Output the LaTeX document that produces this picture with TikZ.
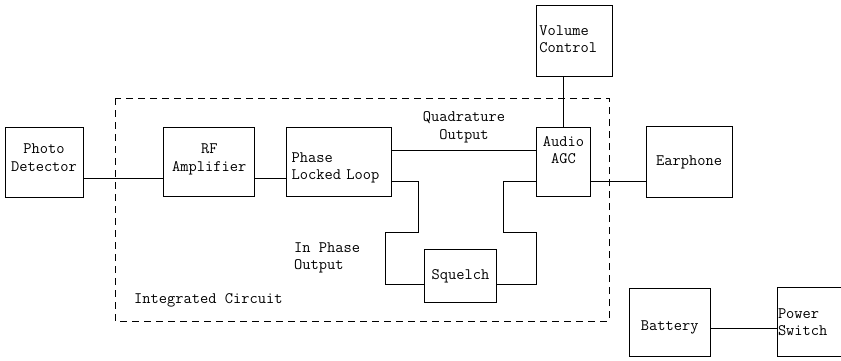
\documentclass[tikz,border=0pt]{standalone}
\usepackage{fontspec}
\usetikzlibrary{positioning}

\begin{document}
\begin{tikzpicture}[
  x=1pt, y=1pt,
  node distance=40pt,
  block/.style={
    rectangle, draw, line width=0.8pt, inner sep=2pt,
    minimum height=69pt, align=center,
    font=\ttfamily\fontsize{16}{17.5}\selectfont
  },
  lbl/.style={inner sep=0pt, align=left, font=\ttfamily\fontsize{16}{17.5}\selectfont},
  wire/.style={line width=0.8pt},
  icbox/.style={line width=0.8pt, dash pattern=on 7pt off 5pt}
]
\useasboundingbox (0,0) rectangle (841,-361);

\node[block, minimum width=78pt, minimum height=70pt, text depth=9pt] (pd) at (44,-162) {Photo\\Detector};
\node[block, minimum width=91pt, text depth=9pt, right=80pt of pd] (rf) {RF\\Amplifier};
\node[block, text width=95pt, inner xsep=5pt, align=left, text depth=9pt, right=31pt of rf] (pll) {Phase\\Locked Loop};
\node[block, minimum width=54pt, text depth=24pt, right=144pt of pll] (agc) {Audio\\AGC};
\node[block, minimum height=71pt, text width=70pt, inner xsep=3pt, align=left, text depth=22pt,
  above=50pt of agc.north west, anchor=south west] (vc) {Volume\\Control};
\node[block, minimum width=86pt, minimum height=71pt, right=55pt of agc] (earphone) {Earphone};
\node[block, minimum width=72pt, minimum height=53pt, below right=52pt and 32pt of pll] (sq) {Squelch};
\node[block, minimum width=81pt, minimum height=68pt, text height=20pt, below=90pt of earphone.south west,
  anchor=north west, xshift=-17pt] (battery) {Battery};
\node[block, text width=65pt, inner xsep=1pt, align=left, right=66pt of battery] (pwrsw) {Power\\Switch};

% integrated circuit outline
\draw[icbox] (115,-98) rectangle (609,-321);
\node[lbl, anchor=west] (iclbl) at (134,-300) {Integrated Circuit};
\node[lbl, anchor=west] (inphase) at (294,-258) {In Phase\\Output};

\draw[wire] ([yshift=-16pt]pd.east) -- ([yshift=-16pt]rf.west);
\draw[wire] ([yshift=-16pt]rf.east) -- ([yshift=-16pt]pll.west);
\draw[wire] ([yshift=12pt]pll.east) -- node[lbl, align=center, above=7pt] (quad) {Quadrature\\Output} ([yshift=12pt]agc.west);
\draw[wire] (agc.north) -- (vc.south -| agc.north);
\draw[wire] ([yshift=-19pt]agc.east) -- ([yshift=-19pt]earphone.west);
\draw[wire] ([yshift=-19pt]pll.east) -- ++(26,0) -- ++(0,-51) -- ++(-33,0) |- ([yshift=-8.5pt]sq.west);
\draw[wire] ([yshift=-8.5pt]sq.east) -- ++(40,0) -- ++(0,52) -- ++(-33,0) |- ([yshift=-19pt]agc.west);
\draw[wire] ([yshift=-6pt]battery.east) -- ([yshift=-6pt]pwrsw.west);

\end{tikzpicture}
\end{document}
